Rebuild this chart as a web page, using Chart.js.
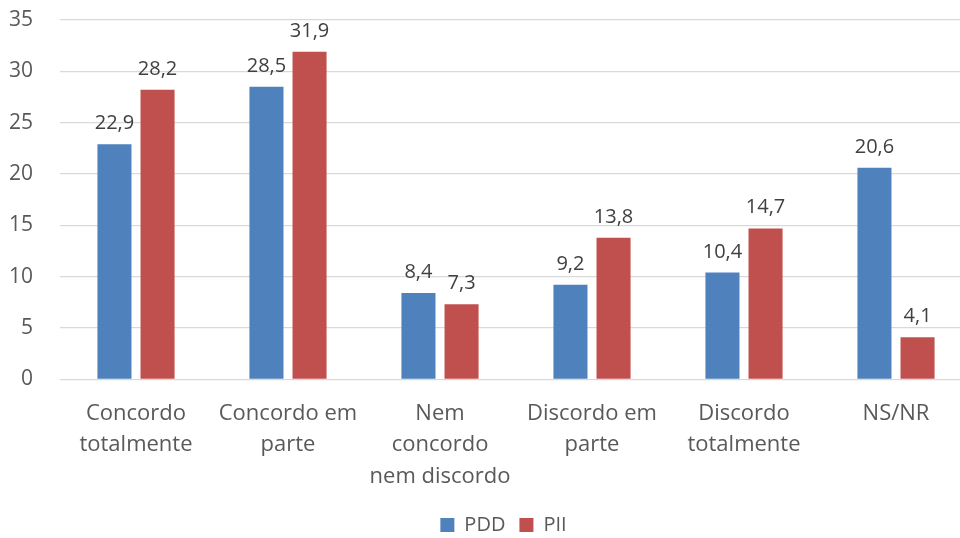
<!DOCTYPE html>
<html>
<head>
<meta charset="utf-8">
<script src="https://cdn.jsdelivr.net/npm/chart.js@4"></script>
<style>
  html, body { margin: 0; padding: 0; background: #fff; overflow: hidden; }
  #wrap { width: 972px; height: 538px; }
</style>
</head>
<body>
<div id="wrap"><canvas id="main-chart" width="972" height="538"></canvas></div>
<script>
// 数据
const categories = [
    ['Concordo', 'totalmente'],
    ['Concordo em', 'parte'],
    ['Nem', 'concordo', 'nem discordo'],
    ['Discordo em', 'parte'],
    ['Discordo', 'totalmente'],
    'NS/NR'
];
const pddValues = [22.9, 28.5, 8.4, 9.2, 10.4, 20.6];
const piiValues = [28.2, 31.9, 7.3, 13.8, 14.7, 4.1];
const yTicks = [0, 5, 10, 15, 20, 25, 30, 35];

const FONT = '"Open Sans", "DejaVu Sans", sans-serif';

// 柱顶数值标签（逗号小数）
const valueLabels = {
    id: 'valueLabels',
    afterDatasetsDraw(chart) {
        const ctx = chart.ctx;
        ctx.save();
        ctx.font = '20px ' + FONT;
        ctx.fillStyle = '#404040';
        ctx.textAlign = 'center';
        ctx.textBaseline = 'alphabetic';
        chart.data.datasets.forEach((ds, i) => {
            chart.getDatasetMeta(i).data.forEach((bar, j) => {
                const txt = ds.data[j].toFixed(1).replace('.', ',');
                ctx.fillText(txt, bar.x, bar.y - 15);
            });
        });
        ctx.restore();
    }
};

// 图例整体右移，与原图位置对齐
const legendShift = {
    id: 'legendShift',
    afterLayout(chart) {
        if (chart.legend) {
            chart.legend.left += 13;
            chart.legend.right += 13;
        }
    }
};

new Chart(document.getElementById('main-chart'), {
    type: 'bar',
    data: {
        labels: categories,
        datasets: [
            { label: 'PDD', data: pddValues, backgroundColor: '#4F81BD', borderColor: '#4F81BD' },
            { label: 'PII', data: piiValues, backgroundColor: '#C0504D', borderColor: '#C0504D' }
        ]
    },
    options: {
        responsive: false,
        animation: false,
        layout: { padding: { top: 0, left: 9, right: 0, bottom: -7 } },
        datasets: {
            bar: { categoryPercentage: 0.567, barPercentage: 0.79 }
        },
        scales: {
            x: {
                grid: { display: false },
                border: { display: false },
                afterFit: axis => { axis.height -= 2; },
                ticks: {
                    color: '#595959',
                    font: { family: FONT, size: 22, lineHeight: 1.45 },
                    padding: 10,
                    maxRotation: 0,
                    autoSkip: false
                }
            },
            y: {
                min: 0,
                max: 35,
                afterBuildTicks: axis => { axis.ticks = yTicks.map(v => ({ value: v })); },
                afterFit: axis => {
                    axis.width = 51;
                    axis.paddingTop = 20;
                    axis.paddingBottom = 20;
                },
                grid: { color: '#d9d9d9', lineWidth: 1.3, drawTicks: false },
                border: { display: false },
                ticks: {
                    color: '#595959',
                    font: { family: FONT, size: 21 },
                    padding: 27
                }
            }
        },
        plugins: {
            legend: {
                position: 'bottom',
                labels: {
                    color: '#595959',
                    font: { family: FONT, size: 20 },
                    boxWidth: 14,
                    boxHeight: 14,
                    padding: 14
                }
            },
            tooltip: { enabled: false }
        }
    },
    plugins: [valueLabels, legendShift]
});
</script>
</body>
</html>
